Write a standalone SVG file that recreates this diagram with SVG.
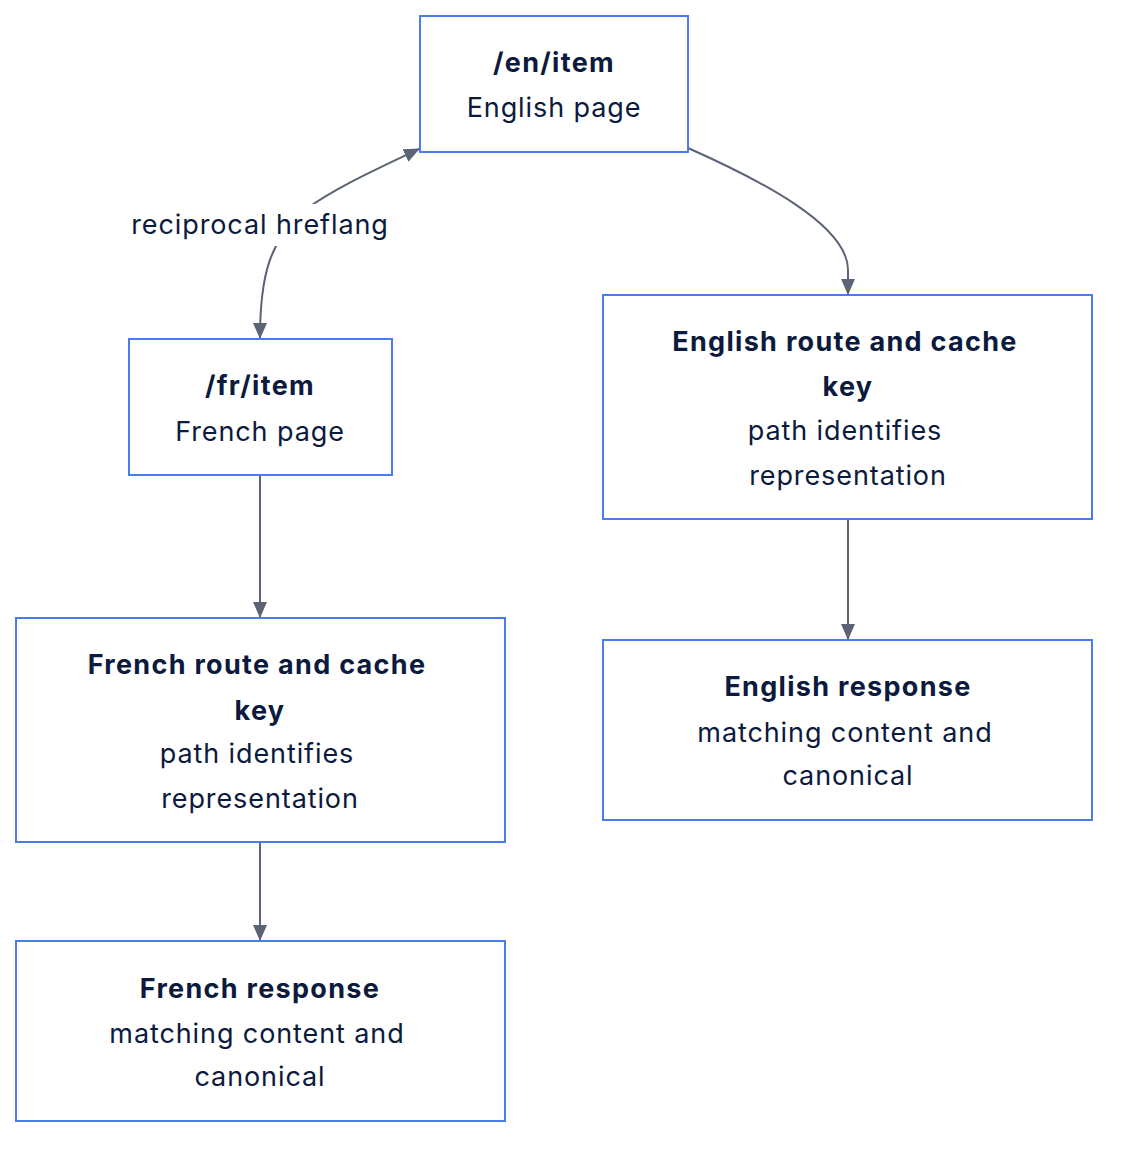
<svg xmlns="http://www.w3.org/2000/svg" width="1124" height="1154" viewBox="0 0 1124 1154">
<style>
.box{fill:#ffffff;stroke:#4a7cf0;stroke-width:2}
.t{font-family:Inter,"Noto Sans","Liberation Sans",sans-serif;font-size:27px;letter-spacing:0.9px;fill:#0c1a3d;text-anchor:middle}
.b{font-weight:700;letter-spacing:1.3px}
.e{fill:none;stroke:#5b6475;stroke-width:2}
</style>
<defs>
<marker id="ah" viewBox="0 0 16 14" refX="15" refY="7" markerWidth="16" markerHeight="14" markerUnits="userSpaceOnUse" orient="auto-start-reverse">
<path d="M0,0 L16,7 L0,14 z" fill="#5b6475"/>
</marker>
</defs>
<rect width="1124" height="1154" fill="#ffffff"/>
<g id="edges">
<path class="e" d="M688,148 C760,180 848,225 848,270 L848,294" marker-end="url(#ah)"/>
<path class="e" d="M419,149 C375,170 335,188 305,210 C270,240 260,275 260,338" marker-start="url(#ah)" marker-end="url(#ah)"/>
<path class="e" d="M260,475 L260,617" marker-end="url(#ah)"/>
<path class="e" d="M260,842 L260,940" marker-end="url(#ah)"/>
<path class="e" d="M848,519 L848,639" marker-end="url(#ah)"/>
<rect x="130" y="204" width="262" height="42" fill="#ffffff"/>
<text class="t" x="260" y="234">reciprocal hreflang</text>
</g>
<g id="en">
<rect class="box" x="420" y="16" width="268" height="136"/>
<text class="t b" x="554" y="72">/en/item</text>
<text class="t" x="554" y="117">English page</text>
</g>
<g id="fr">
<rect class="box" x="129" y="339" width="263" height="136"/>
<text class="t b" x="260" y="395">/fr/item</text>
<text class="t" x="260" y="441">French page</text>
</g>
<g id="enroute">
<rect class="box" x="603" y="295" width="489" height="224"/>
<text class="t b" x="845" y="351">English route and cache</text>
<text class="t b" x="848" y="396">key</text>
<text class="t" x="845" y="440">path identifies</text>
<text class="t" x="848" y="485">representation</text>
</g>
<g id="frroute">
<rect class="box" x="16" y="618" width="489" height="224"/>
<text class="t b" x="257" y="674">French route and cache</text>
<text class="t b" x="260" y="720">key</text>
<text class="t" x="257" y="763">path identifies</text>
<text class="t" x="260" y="808">representation</text>
</g>
<g id="enresp">
<rect class="box" x="603" y="640" width="489" height="180"/>
<text class="t b" x="848" y="696">English response</text>
<text class="t" x="845" y="742">matching content and</text>
<text class="t" x="848" y="785">canonical</text>
</g>
<g id="frresp">
<rect class="box" x="16" y="941" width="489" height="180"/>
<text class="t b" x="260" y="998">French response</text>
<text class="t" x="257" y="1043">matching content and</text>
<text class="t" x="260" y="1086">canonical</text>
</g>
</svg>
